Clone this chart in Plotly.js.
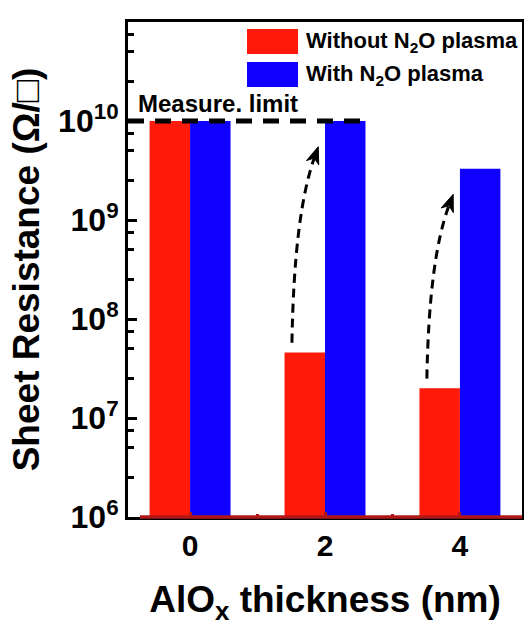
<!DOCTYPE html>
<html>
<head>
<meta charset="utf-8">
<script src="https://cdn.plot.ly/plotly-3.0.1.min.js"></script>
<style>html,body{margin:0;padding:0;background:#fff;}#chart{width:524px;height:632px;}</style>
</head>
<body>
<div id="chart"></div>
<script>
// ---- data ----
const categories = [0, 2, 4];                 // AlOx thickness (nm)
const withoutN2O = [1.0e10, 4.6e7, 2.0e7];    // Sheet resistance, without N2O plasma
const withN2O = [1.0e10, 1.0e10, 3.3e9];      // Sheet resistance, with N2O plasma
const seriesNames = ['Without N<sub>2</sub>O plasma', 'With N<sub>2</sub>O plasma'];
const limitValue = 1.0e10;
const limitLabel = 'Measure. limit';
const yTickExps = [6, 7, 8, 9, 10, 11];
const yTickText = ['10<sup>6</sup>', '10<sup>7</sup>', '10<sup>8</sup>', '10<sup>9</sup>', '10<sup>10</sup>', '10<sup>11</sup>'];
const xTitle = 'AlO<sub>x</sub> thickness (nm)';
const yTitle = 'Sheet Resistance (Ω/□)';

// ---- style / geometry ----
const RED = '#FF1A0A', BLUE = '#1000FF', DARKRED = '#B01818';
const FONT = 'Liberation Sans, Arial, sans-serif';
const W = 524, H = 632;
const M = {l: 128, r: 2, t: 22, b: 115};
const xRange = [-0.92, 4.92];
const yRange = [6, 11];
const barW = 0.6;

// helpers: data -> pixel -> paper
const pw = W - M.l - M.r, ph = H - M.t - M.b;
const xPix = x => M.l + (x - xRange[0]) / (xRange[1] - xRange[0]) * pw;
const yPix = v => M.t + (yRange[1] - Math.log10(v)) / (yRange[1] - yRange[0]) * ph;
const pX = p => (p - M.l) / pw;
const pY = p => (H - M.b - p) / ph;

// minor tick positions (2.5, 5, 7.5 per decade)
const minorVals = [];
for (let d = yRange[0]; d < yRange[1]; d++) [2.5, 5, 7.5].forEach(k => minorVals.push(k * Math.pow(10, d)));

const traces = [
  {type: 'bar', x: categories, y: withoutN2O, name: seriesNames[0], marker: {color: RED, line: {width: 0}}, offsetgroup: 'a'},
  {type: 'bar', x: categories, y: withN2O, name: seriesNames[1], marker: {color: BLUE, line: {width: 0}}, offsetgroup: 'b'},
  {type: 'scatter', mode: 'lines', x: [xRange[0], categories[1] + barW], y: [limitValue, limitValue],
   line: {color: '#000', width: 5, dash: '16px,11px'}, showlegend: false, hoverinfo: 'skip'}
];

const shapes = [];
const annotations = [];

// bottom axis dark red line
shapes.push({type: 'line', xref: 'paper', yref: 'paper', x0: pX(140), x1: 1, y0: 0, y1: 0,
  line: {color: DARKRED, width: 3.5}, layer: 'above'});

// curved dashed arrows from red bar top to blue bar top (indices 1 and 2)
[1, 2].forEach(i => {
  const c = categories[i];
  const sx = xPix(c - 0.49), sy = yPix(withoutN2O[i] * 1.25);
  const ex = xPix(c - 0.1), ey = yPix(withN2O[i] * 0.55);
  const cx = sx + 0.08 * (ex - sx), cy = sy + 0.65 * (ey - sy);
  let dx = ex - cx, dy = ey - cy; const len = Math.hypot(dx, dy); dx /= len; dy /= len;
  const nx = -dy, ny = dx;
  const headL = 17, notch = 12, hw = 6.5;
  const bx = ex - headL * dx, by = ey - headL * dy;
  const mx = ex - notch * dx, my = ey - notch * dy;
  shapes.push({type: 'path', xref: 'paper', yref: 'paper',
    path: `M${pX(sx)},${pY(sy)} Q${pX(cx)},${pY(cy)} ${pX(mx)},${pY(my)}`,
    line: {color: '#000', width: 3, dash: '9px,6px'}, layer: 'above'});
  shapes.push({type: 'path', xref: 'paper', yref: 'paper',
    path: `M${pX(ex)},${pY(ey)} L${pX(bx + hw * nx)},${pY(by + hw * ny)} L${pX(mx)},${pY(my)} L${pX(bx - hw * nx)},${pY(by - hw * ny)} Z`,
    fillcolor: '#000', line: {color: '#000', width: 1}, layer: 'above'});
});

// manual legend
[[RED, 0], [BLUE, 1]].forEach(([col, k]) => {
  const top = 29 + k * 33;
  shapes.push({type: 'rect', xref: 'paper', yref: 'paper', x0: pX(247), x1: pX(298), y0: pY(top + 25), y1: pY(top),
    fillcolor: col, line: {width: 0}, layer: 'above'});
  annotations.push({xref: 'paper', yref: 'paper', x: pX(304), y: pY(top + 12.5), xanchor: 'left', yanchor: 'middle',
    text: '<b>' + seriesNames[k] + '</b>', showarrow: false,
    font: {family: FONT, size: 22, color: '#000'}});
});

// Measure. limit label
annotations.push({xref: 'paper', yref: 'paper', x: pX(136), y: pY(yPix(limitValue) - 17), xanchor: 'left', yanchor: 'middle',
  text: '<b>' + limitLabel + '</b>', showarrow: false, font: {family: FONT, size: 24, color: '#000'}});

const layout = {
  width: W, height: H,
  margin: M,
  paper_bgcolor: '#fff', plot_bgcolor: '#fff',
  showlegend: false,
  barmode: 'group', bargap: 0.4, bargroupgap: 0,
  font: {family: FONT, color: '#000'},
  xaxis: {
    range: xRange, tickmode: 'array', tickvals: categories, ticktext: categories.map(String),
    ticks: 'inside', ticklen: 5, tickwidth: 3, tickcolor: DARKRED,
    minor: {dtick: 1, tick0: 0, ticks: 'inside', ticklen: 3, tickwidth: 3, tickcolor: DARKRED},
    showline: true, linecolor: '#000', linewidth: 3, mirror: true,
    showgrid: false, zeroline: false,
    tickfont: {family: FONT, size: 30, weight: 'bold', color: '#000'},
    title: {text: '<b>' + xTitle + '</b>', font: {family: FONT, size: 37, color: '#000'}, standoff: 26}
  },
  yaxis: {
    type: 'log', range: yRange, tickmode: 'array',
    tickvals: yTickExps.map(e => Math.pow(10, e)), ticktext: yTickText,
    ticks: 'inside', ticklen: 9, tickwidth: 3, tickcolor: '#000',
    minor: {tickmode: 'array', tickvals: minorVals, ticks: 'inside', ticklen: 6, tickwidth: 3, tickcolor: '#000'},
    showline: true, linecolor: '#000', linewidth: 3, mirror: true,
    showgrid: false, zeroline: false,
    tickfont: {family: FONT, size: 32, weight: 'bold', color: '#000'},
    title: {text: '<b>' + yTitle + '</b>', font: {family: FONT, size: 37, color: '#000'}, standoff: 8}
  },
  shapes: shapes,
  annotations: annotations
};

Plotly.newPlot('chart', traces, layout, {displayModeBar: false, staticPlot: true});
</script>
</body>
</html>
